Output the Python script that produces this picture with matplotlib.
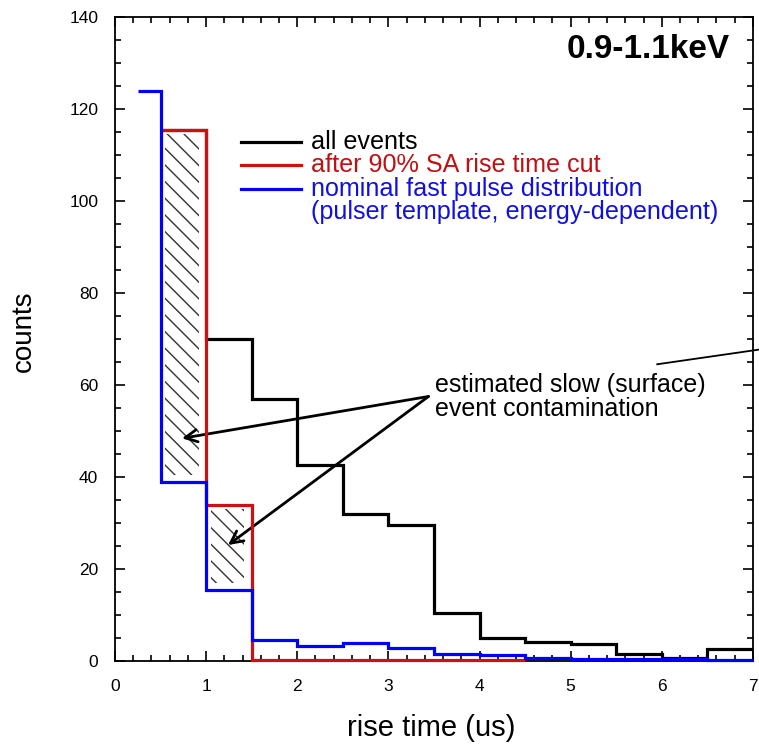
import numpy as np
import matplotlib
matplotlib.use("Agg")
import matplotlib.pyplot as plt
from matplotlib.ticker import MultipleLocator

plt.rcParams['font.family'] = ['Liberation Sans', 'DejaVu Sans']
plt.rcParams['hatch.linewidth'] = 1.0

# ---- data ----
all_edges = [0.5, 1.0, 1.5, 2.0, 2.5, 3.0, 3.5, 4.0, 4.5, 5.0, 5.5, 6.0, 6.5, 7.0]
all_counts = [115.5, 70, 57, 42.5, 32, 29.5, 10.5, 5, 4.2, 3.6, 1.5, 0.7, 2.5]

cut_edges = [0.5, 1.0, 1.5, 2.0, 2.5, 3.0, 3.5, 4.0, 4.5]
cut_counts = [115.5, 34, 0.3, 0.3, 0.3, 0.3, 0.3, 0.3]

fast_edges = [0.25, 0.5, 1.0, 1.5, 2.0, 2.5, 3.0, 3.5, 4.0, 4.5, 5.0, 5.5, 6.0, 6.5, 7.0]
fast_counts = [124, 39, 15.5, 4.6, 3.2, 3.8, 2.8, 1.5, 1.2, 0.6, 0.5, 0.4, 0.4, 0.3]

legend_labels = ["all events", "after 90% SA rise time cut",
                 "nominal fast pulse distribution",
                 "(pulser template, energy-dependent)"]
title_text = "0.9-1.1keV"
note_text = "estimated slow (surface)\nevent contamination"

black = "#000000"
red = "#cc1111"
blue = "#0000ff"

fig = plt.figure(figsize=(7.59, 7.44), dpi=100)
ax = fig.add_axes([0.1515, 0.1116, 0.8405, 0.8656])

# hatched contamination regions (between fast-pulse and after-cut histograms)
for i in range(2):
    lo = cut_edges[i]
    b = fast_counts[i + 1]
    t = cut_counts[i]
    ax.bar(lo + 0.05, t - b - 2.5, width=0.37, bottom=b + 1.5, align='edge',
           fill=False, linewidth=0, edgecolor='#333333', hatch='\\\\')

lw = 2.3
ax.stairs(all_counts, all_edges, baseline=None, color=black, lw=lw, zorder=3)
ax.stairs(cut_counts, cut_edges, baseline=None, color=red, lw=lw, zorder=4, clip_on=False)
ax.stairs(fast_counts, fast_edges, baseline=None, color=blue, lw=lw, zorder=5, clip_on=False)

ax.set_xlim(0, 7)
ax.set_ylim(0, 140)

ax.xaxis.set_major_locator(MultipleLocator(1))
ax.xaxis.set_minor_locator(MultipleLocator(0.2))
ax.yaxis.set_major_locator(MultipleLocator(20))
ax.yaxis.set_minor_locator(MultipleLocator(5))
ax.tick_params(which='both', direction='in', top=True, right=True, width=1.2)
ax.tick_params(which='major', length=7)
ax.tick_params(which='minor', length=4.5)
ax.tick_params(axis='x', which='major', pad=13, labelsize=12.5)
ax.tick_params(axis='y', which='major', pad=12, labelsize=12.5)
for s in ax.spines.values():
    s.set_linewidth(1.3)

ax.set_xlabel("rise time (us)", fontsize=21)
ax.set_ylabel("counts", fontsize=20)
ax.xaxis.set_label_coords(0.495, -0.082)
ax.yaxis.set_label_coords(-0.122, 0.512)

# title
ax.text(6.75, 133, title_text, fontsize=24, fontweight='bold', ha='right', va='center')

# legend (manual)
leg_colors = [black, red, blue]
leg_text_colors = ["#000000", "#c01010", "#1010e0", "#1010e0"]
leg_y = [112.9, 107.8, 102.7, 97.6]
for i, c in enumerate(leg_colors):
    ax.plot([1.38, 2.04], [leg_y[i], leg_y[i]], color=c, lw=2.3)
for i, lab in enumerate(legend_labels):
    ax.text(2.15, leg_y[i], lab, color=leg_text_colors[i], fontsize=18.1, va='center', ha='left')

# annotation
ax.text(3.51, 57.3, note_text, fontsize=18, va='center', ha='left', linespacing=1.0)
tail = (3.44, 57.5)
for head in [(0.735, 48.4), (1.24, 25.2)]:
    ax.annotate('', xy=head, xytext=tail,
                arrowprops=dict(arrowstyle='->', lw=2, color='black',
                                mutation_scale=22, shrinkA=0, shrinkB=0))

ax.plot([5.95, 7.07], [64.5, 67.7], color='black', lw=1.3, clip_on=False)

fig.savefig("out.png", dpi=100)
